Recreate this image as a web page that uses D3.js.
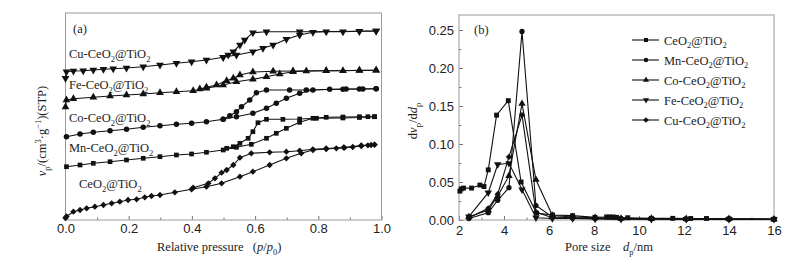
<!DOCTYPE html>
<html>
<head>
<meta charset="utf-8">
<script src="https://cdn.jsdelivr.net/npm/d3@7"></script>
<style>
  body { margin: 0; background: #fff; }
  svg { font-family: "Liberation Serif", "Times New Roman", serif; }
  .frame { fill: none; stroke: #9a9a9a; stroke-width: 1; }
  .tick line { stroke: #777; }
  .tick text { font-size: 13px; fill: #222; }
  .curve { fill: none; stroke: #111; stroke-width: 1.1; }
  .mark { fill: #111; }
  .lbl { font-size: 12.5px; fill: #222; }
</style>
</head>
<body>
<svg id="chart"></svg>
<script>
// ---- panel (a): N2 isotherms, offset volume (a.u.) ----
const ceAds = [[0.0, 2], [0.003, 3.5], [0.025, 8.3], [0.046, 10], [0.067, 11.7], [0.093, 13.3], [0.12, 15], [0.146, 16.7],
  [0.172, 18.3], [0.198, 20], [0.225, 20.7], [0.251, 22.7], [0.272, 24], [0.299, 25], [0.346, 27.7], [0.399, 30.7],
  [0.446, 33.3], [0.494, 36.7], [0.552, 43.3], [0.593, 48.3], [0.646, 55], [0.699, 61.7], [0.746, 66.7], [0.783, 70],
  [0.825, 71], [0.857, 71.7], [0.883, 72.3], [0.909, 73], [0.936, 74], [0.957, 74.7], [0.967, 75], [0.978, 75.3]];
const ceDes = [[0.978, 75.3], [0.936, 74.5], [0.88, 72.5], [0.825, 71.5], [0.783, 70.7], [0.741, 69.3], [0.699, 68.3],
  [0.646, 67.7], [0.588, 66.7], [0.552, 62.3], [0.531, 55], [0.51, 50], [0.494, 47.3], [0.473, 41.7], [0.452, 36.7], [0.404, 32.3]];

const mnAds = [[0.003, 53.3], [0.046, 55], [0.088, 56.7], [0.141, 58.3], [0.193, 60], [0.246, 61.7], [0.299, 63.3],
  [0.351, 65], [0.399, 66], [0.446, 67.7], [0.499, 70], [0.541, 72.7], [0.588, 75.7], [0.636, 81.7], [0.667, 86.7],
  [0.699, 91.7], [0.741, 97.7], [0.783, 101.7], [0.825, 102.7], [0.878, 103], [0.93, 103.3], [0.957, 103.3], [0.978, 103.3]];
const mnDes = [[0.978, 103.3], [0.93, 102.5], [0.878, 102], [0.794, 101.7], [0.741, 101], [0.688, 100.7], [0.636, 100.7],
  [0.609, 97.3], [0.593, 88.3], [0.578, 81.7], [0.552, 76.7], [0.531, 73.3], [0.51, 71.7]];

const coAds = [[0.003, 83.3], [0.046, 86], [0.088, 87.7], [0.141, 89.3], [0.193, 90.7], [0.246, 92.7], [0.299, 94.3],
  [0.351, 95.7], [0.399, 96.7], [0.446, 98.3], [0.499, 100.7], [0.541, 103.3], [0.593, 106.7], [0.636, 111.7],
  [0.667, 116.7], [0.699, 121.7], [0.741, 126.7], [0.783, 130], [0.836, 130.7], [0.888, 131], [0.941, 131], [0.983, 131.3]];
const coDes = [[0.983, 131.3], [0.93, 131], [0.878, 130.7], [0.762, 130], [0.709, 130], [0.636, 130], [0.604, 127.3],
  [0.583, 120], [0.557, 113.3], [0.541, 108.3], [0.52, 104.3], [0.499, 100.7]];

const feAds = [[0.0, 113], [0.003, 120], [0.025, 121.3], [0.088, 122.7], [0.141, 124], [0.193, 125], [0.246, 126],
  [0.299, 127.3], [0.351, 128.3], [0.404, 129.3], [0.446, 131.7], [0.499, 135], [0.541, 138.3], [0.593, 140.7],
  [0.636, 143.3], [0.678, 146], [0.72, 148.3], [0.762, 149], [0.825, 149.3], [0.878, 149.3], [0.93, 149.7], [0.983, 149.7]];
const feDes = [[0.983, 149.7], [0.93, 149.5], [0.825, 149.3], [0.72, 149], [0.657, 148.7], [0.593, 148], [0.552, 145],
  [0.531, 141.7], [0.51, 139.3], [0.478, 135], [0.446, 132.7], [0.425, 131]];

const cuAds = [[0.0, 141.7], [0.003, 148.3], [0.025, 149], [0.056, 149.3], [0.088, 150], [0.12, 150.7], [0.151, 151.3],
  [0.193, 152], [0.246, 153.3], [0.299, 155], [0.351, 156.7], [0.399, 158.3], [0.446, 160], [0.499, 162.7], [0.541, 165],
  [0.593, 168.3], [0.625, 171.7], [0.657, 175], [0.699, 180.7], [0.741, 185], [0.783, 187.7], [0.825, 188.3],
  [0.878, 188.3], [0.93, 188.7], [0.983, 189]];
const cuDes = [[0.983, 189], [0.93, 188.7], [0.741, 188.3], [0.636, 188.3], [0.593, 187.3], [0.567, 180], [0.552, 175],
  [0.531, 168.3], [0.515, 165], [0.499, 162.7]];

const pTicks = [0, 0.2, 0.4, 0.6, 0.8, 1.0];
const pMinor = [0.1, 0.3, 0.5, 0.7, 0.9];

// ---- panel (b): pore size distribution ----
const dCe = [2.04, 2.1, 2.2, 2.56, 2.93, 3.11, 3.3, 3.67, 4.19, 4.76, 5.45, 6.16, 7.05, 8.04, 8.56, 8.7, 8.85, 9.0, 9.5,
  10.55, 11.5, 12.3, 13.0, 14.0, 16.0];
const vCe = [0.038, 0.041, 0.042, 0.042, 0.046, 0.044, 0.066, 0.138, 0.157, 0.050, 0.009, 0.0066, 0.0057, 0.0035,
  0.004, 0.004, 0.004, 0.0035, 0.003, 0.0022, 0.0022, 0.002, 0.002, 0.0015, 0.001];
const dOther = [2.44, 3.3, 3.72, 4.22, 4.8, 5.42, 6.15, 7.05, 8.05, 9.2, 10.55, 12.1, 14.0, 16.0];
const vMn = [0.002, 0.0096, 0.026, 0.0425, 0.248, 0.019, 0.004, 0.003, 0.002, 0.002, 0.0015, 0.001, 0.001, 0.001];
const vCo = [0.004, 0.013, 0.0316, 0.058, 0.153, 0.053, 0.006, 0.004, 0.003, 0.002, 0.002, 0.0015, 0.0015, 0.001];
const vFe = [0.0044, 0.036, 0.073, 0.0746, 0.040, 0.003, 0.002, 0.002, 0.0015, 0.001, 0.001, 0.001, 0.001, 0.001];
const vCu = [0.003, 0.0154, 0.034, 0.083, 0.138, 0.0105, 0.003, 0.002, 0.002, 0.0015, 0.0015, 0.001, 0.001, 0.001];

const dTicks = [2, 4, 6, 8, 10, 12, 14, 16];
const dMinor = [3, 5, 7, 9, 11, 13, 15];
const vTicks = [0, 0.05, 0.10, 0.15, 0.20, 0.25];
const vMinor = [0.025, 0.075, 0.125, 0.175, 0.225];

const names = ['CeO', 'Mn-CeO', 'Co-CeO', 'Fe-CeO', 'Cu-CeO'];

// ---- helpers ----
// diamonds drawn as a square turned 45deg, down triangles as a turned triangle
function symbolPath(kind, size) {
  const t = { sq: d3.symbolSquare, ci: d3.symbolCircle, up: d3.symbolTriangle, dn: d3.symbolTriangle, di: d3.symbolSquare }[kind];
  return d3.symbol().type(t).size(size)();
}
function turn(kind) { return kind === 'dn' ? ' rotate(180)' : kind === 'di' ? ' rotate(45)' : ''; }

function rich(sel, parts, fs) {
  let shift = 0;
  parts.forEach(([s, k]) => {
    const t = sel.append('tspan').text(s);
    let want = 0;
    if (k === 'sub') want = fs * 0.3;
    if (k === 'sup') want = -fs * 0.38;
    t.attr('dy', want - shift);
    shift = want;
    if (k === 'sub' || k === 'sup') t.attr('font-size', fs * 0.68);
    if (k === 'i') t.attr('font-style', 'italic');
  });
  return sel;
}
function chem(prefix) { return [[prefix, ''], ['2', 'sub'], ['@TiO', ''], ['2', 'sub']]; }

function drawSeries(g, pts, x, y, kind, size) {
  g.append('path').attr('class', 'curve')
    .attr('d', d3.line().x((d) => x(d[0])).y((d) => y(d[1]))(pts));
  g.selectAll(null).data(pts).enter().append('path').attr('class', 'mark')
    .attr('d', symbolPath(kind, size))
    .attr('transform', (d) => `translate(${x(d[0])},${y(d[1])})${turn(kind)}`);
}

function render(svgSelector) {
  const svg = d3.select(svgSelector).attr('width', 807).attr('height', 262);

  // ===== panel (a) =====
  const A = { l: 65.5, r: 381.5, t: 13, b: 220 };
  const xa = d3.scaleLinear().domain([0, 1]).range([A.l, A.r]);
  const ya = d3.scaleLinear().domain([0, 207]).range([A.b, A.t]);
  const ga = svg.append('g');

  ga.append('g').attr('transform', `translate(0,${A.b})`)
    .call(d3.axisBottom(xa).tickValues(pTicks).tickSize(-4).tickPadding(4).tickFormat(d3.format('.1f')))
    .call((s) => s.select('.domain').remove());
  ga.append('g').attr('transform', `translate(0,${A.b})`)
    .call(d3.axisBottom(xa).tickValues(pMinor).tickSize(-2.5).tickFormat(''))
    .call((s) => s.select('.domain').remove());
  ga.append('rect').attr('class', 'frame').attr('x', A.l).attr('y', A.t)
    .attr('width', A.r - A.l).attr('height', A.b - A.t);

  const isoSets = [
    [ceAds, ceDes, 'di', 20], [mnAds, mnDes, 'sq', 22], [coAds, coDes, 'ci', 24],
    [feAds, feDes, 'up', 26], [cuAds, cuDes, 'dn', 26]];
  isoSets.forEach(([ads, des, kind, size]) => {
    drawSeries(ga, ads, xa, ya, kind, size);
    drawSeries(ga, des, xa, ya, kind, size);
  });

  const isoLabels = [['Cu-CeO', 69, 58], ['Fe-CeO', 69, 89], ['Co-CeO', 69, 122], ['Mn-CeO', 69, 152], ['CeO', 79, 188]];
  isoLabels.forEach(([p, lx, ly]) =>
    rich(ga.append('text').attr('class', 'lbl').attr('x', lx).attr('y', ly), chem(p), 12.5));
  ga.append('text').attr('class', 'lbl').attr('x', 73).attr('y', 33).text('(a)');

  rich(ga.append('text').attr('class', 'lbl').attr('x', 157).attr('y', 251),
    [['Relative pressure', ''], ['\u00a0\u00a0\u00a0(', ''], ['p', 'i'], ['/', ''], ['p', 'i'], ['0', 'sub'], [')', '']], 12.5);
  rich(ga.append('text').attr('class', 'lbl').attr('text-anchor', 'middle')
    .attr('transform', 'translate(46,131) rotate(-90)'),
    [['v', 'i'], ['p', 'sub'], ['/(cm', ''], ['3', 'sup'], ['\u00b7g', ''], ['\u22121', 'sup'], [')(STP)', '']], 12.5);

  // ===== panel (b) =====
  const B = { l: 459, r: 774, t: 15, b: 220 };
  const xb = d3.scaleLinear().domain([2, 16]).range([B.l, B.r]);
  const yb = d3.scaleLinear().domain([0, 0.05]).range([B.b, B.b - 38]);
  const gb = svg.append('g');

  gb.append('g').attr('transform', `translate(0,${B.b})`)
    .call(d3.axisBottom(xb).tickValues(dTicks).tickSize(-4).tickPadding(6).tickFormat(d3.format('d')))
    .call((s) => s.select('.domain').remove());
  gb.append('g').attr('transform', `translate(0,${B.b})`)
    .call(d3.axisBottom(xb).tickValues(dMinor).tickSize(-2.5).tickFormat(''))
    .call((s) => s.select('.domain').remove());
  gb.append('g').attr('transform', `translate(${B.l},0)`)
    .call(d3.axisLeft(yb).tickValues(vTicks).tickSize(-4).tickPadding(5).tickFormat(d3.format('.2f')))
    .call((s) => s.select('.domain').remove());
  gb.append('g').attr('transform', `translate(${B.l},0)`)
    .call(d3.axisLeft(yb).tickValues(vMinor).tickSize(-2.5).tickFormat(''))
    .call((s) => s.select('.domain').remove());
  gb.append('rect').attr('class', 'frame').attr('x', B.l).attr('y', B.t)
    .attr('width', B.r - B.l).attr('height', B.b - B.t);

  const psd = [
    [dCe, vCe, 'sq', 24], [dOther, vMn, 'ci', 22], [dOther, vCo, 'up', 24],
    [dOther, vFe, 'dn', 24], [dOther, vCu, 'di', 20]];
  psd.forEach(([xs, vs, kind, size]) =>
    drawSeries(gb, xs.map((d, i) => [d, vs[i]]), xb, yb, kind, size));

  // legend
  psd.forEach(([, , kind], i) => {
    const ly = 40 + i * 20;
    gb.append('line').attr('x1', 632).attr('x2', 659).attr('y1', ly).attr('y2', ly)
      .attr('stroke', '#111').attr('stroke-width', 1.1);
    gb.append('path').attr('class', 'mark').attr('d', symbolPath(kind, 16))
      .attr('transform', `translate(646,${ly})${turn(kind)}`);
    rich(gb.append('text').attr('class', 'lbl').attr('x', 664).attr('y', ly + 4.5), chem(names[i]), 12.5);
  });

  gb.append('text').attr('class', 'lbl').attr('x', 474).attr('y', 34).text('(b)');
  rich(gb.append('text').attr('class', 'lbl').attr('x', 565).attr('y', 251),
    [['Pore size', ''], ['\u00a0\u00a0\u00a0\u00a0', ''], ['d', 'i'], ['p', 'sub'], ['/nm', '']], 12.5);
  rich(gb.append('text').attr('class', 'lbl').attr('text-anchor', 'middle')
    .attr('transform', 'translate(417,121) rotate(-90)'),
    [['d', ''], ['v', 'i'], ['p', 'sub'], ['/d', ''], ['d', 'i'], ['p', 'sub']], 12.5);
}

render('#chart');
</script>
</body>
</html>
